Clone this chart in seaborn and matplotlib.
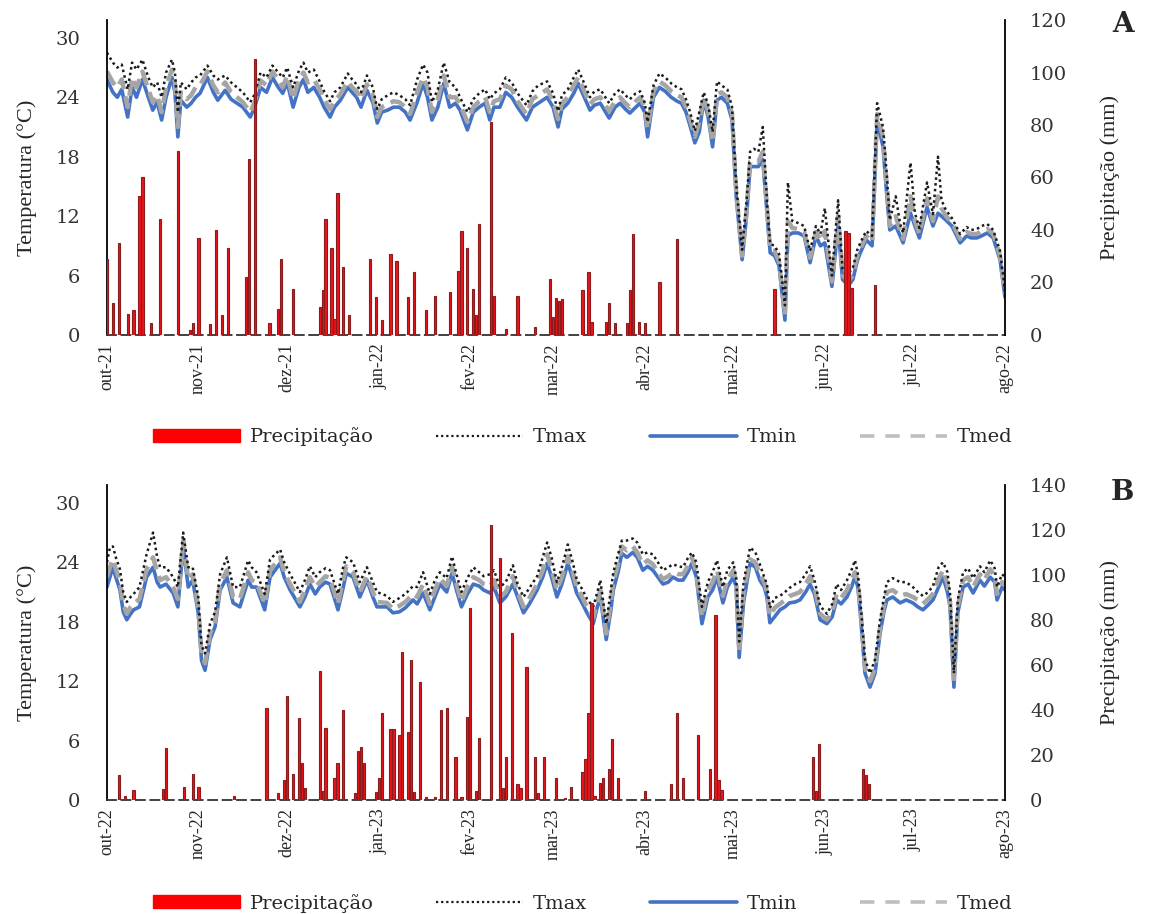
import matplotlib
matplotlib.use('Agg')
import matplotlib.pyplot as plt
from matplotlib.patches import Patch
from matplotlib.lines import Line2D
import seaborn as sns
import numpy as np
import pandas as pd

sns.set_theme(style='white')
plt.rcParams['font.family'] = ['Liberation Serif', 'DejaVu Serif']

# ---------------- panel A : out-21 .. ago-22 ----------------
a_start = '2021-10-01'
a_months = ['out-21', 'nov-21', 'dez-21', 'jan-22', 'fev-22', 'mar-22',
            'abr-22', 'mai-22', 'jun-22', 'jul-22', 'ago-22']
# days after the start date
a_day = [0, 2, 3.5, 5, 7, 8.5, 10, 12, 14, 15.5,
         17, 18.5, 20, 22, 23, 24, 25, 27, 28.5, 30,
         31.5, 34, 36, 37.5, 40, 42, 44, 46, 48.5, 50,
         52, 54, 56, 58, 59.5, 61, 63, 65, 66.5, 68,
         70, 72, 73.5, 75.5, 77, 79, 81.5, 83, 84.5, 86,
         88, 90, 91.5, 93, 95, 97, 99, 101, 102.6, 105,
         107, 108.5, 110, 112, 114, 116, 118, 119.5, 122, 124,
         126, 128, 129.6, 131, 133, 135, 137, 139, 142, 144,
         146, 149, 151, 152.7, 154, 156, 158, 159.5, 161, 163.5,
         165, 167, 170, 172, 173.7, 175.5, 177, 179, 180.5, 182,
         183, 185, 187, 189, 191, 193, 194.5, 196, 197.5, 199,
         200.5, 202, 203.5, 205, 206.5, 208, 210, 211.6, 213, 215,
         216.5, 217.7, 219, 220.5, 222, 223.5, 224.5, 226, 227.5, 229.5,
         230.5, 232, 234, 236, 238, 240, 241.5, 243, 245.4, 247.5,
         249, 251, 252.5, 254, 255, 257, 259, 260.7, 262.7, 264,
         265, 267, 268.5, 269.5, 272, 273.5, 275, 277.6, 279.6, 281.3,
         282.5, 284, 286, 288.8, 291, 292.5, 294.5, 296, 298, 300,
         302.3, 304]
a_tmin = [25.8, 24.5, 24.0, 24.8, 22.0, 25.0, 24.0, 25.8, 24.0, 22.7,
          23.5, 21.7, 24.0, 26.0, 24.5, 20.0, 23.7, 23.0, 23.4, 24.0,
          24.4, 26.0, 24.5, 23.7, 24.7, 23.8, 23.4, 23.0, 22.0, 23.0,
          25.0, 24.5, 26.0, 25.0, 24.4, 25.5, 23.0, 25.0, 25.8, 24.5,
          25.0, 24.0, 23.0, 22.0, 23.0, 23.7, 25.0, 24.5, 24.0, 23.0,
          24.7, 23.5, 21.4, 22.5, 22.7, 23.0, 23.0, 22.5, 21.7, 23.5,
          25.4, 24.0, 21.7, 23.0, 25.4, 23.0, 23.4, 22.7, 20.7, 22.5,
          23.0, 23.4, 21.7, 23.0, 23.0, 24.5, 24.0, 23.0, 21.7, 23.0,
          23.4, 24.0, 23.0, 21.0, 22.8, 23.4, 24.4, 25.4, 24.4, 22.7,
          23.2, 23.4, 21.9, 23.0, 23.4, 22.8, 22.4, 23.0, 23.4, 22.5,
          20.0, 24.0, 25.0, 24.6, 24.0, 23.6, 23.4, 22.5, 21.0, 19.4,
          20.5, 23.7, 22.0, 19.0, 23.7, 24.0, 23.4, 21.7, 14.0, 7.6,
          12.0, 17.0, 17.0, 17.0, 17.7, 12.0, 8.3, 8.0, 7.0, 1.5,
          10.0, 10.3, 10.3, 10.0, 7.3, 10.0, 9.0, 9.3, 4.9, 11.0,
          5.6, 5.0, 5.6, 7.5, 8.3, 9.6, 9.0, 21.7, 19.0, 14.0,
          10.6, 11.0, 10.0, 9.3, 12.3, 11.0, 9.8, 12.9, 11.0, 12.3,
          12.0, 11.6, 11.0, 9.3, 10.0, 9.8, 9.8, 10.0, 10.3, 9.8,
          7.6, 3.8]
a_tmed = [26.6, 25.5, 25.0, 25.8, 23.0, 26.0, 25.0, 26.6, 24.8, 23.5,
          24.2, 22.5, 25.0, 26.8, 25.5, 21.0, 24.5, 23.8, 24.2, 25.0,
          25.2, 26.6, 25.2, 24.5, 25.5, 24.5, 24.0, 23.5, 22.5, 23.5,
          25.7, 25.2, 26.6, 25.8, 25.0, 26.2, 23.8, 25.8, 26.5, 25.5,
          25.8, 24.8, 23.8, 22.8, 23.6, 24.3, 25.6, 25.0, 24.6, 23.8,
          25.3, 24.2, 22.0, 23.0, 23.3, 23.6, 23.5, 23.0, 22.3, 24.5,
          26.0, 25.0, 22.5, 23.8, 26.2, 24.0, 24.0, 23.3, 21.5, 23.0,
          23.6, 24.0, 22.5, 23.6, 23.8, 25.2, 24.8, 23.6, 22.3, 23.8,
          24.2, 24.8, 23.6, 21.8, 23.4, 24.0, 25.2, 26.0, 25.0, 23.3,
          23.8, 24.0, 22.6, 23.6, 24.0, 23.4, 23.0, 23.6, 24.0, 23.0,
          20.8, 24.6, 25.6, 25.2, 24.6, 24.2, 24.0, 23.0, 21.6, 20.0,
          21.5, 24.0, 22.6, 19.5, 24.3, 24.5, 24.0, 22.3, 14.5, 8.0,
          12.6, 17.5, 17.6, 17.5, 18.5, 12.6, 8.6, 8.5, 7.4, 2.0,
          11.5, 10.8, 10.7, 10.4, 7.8, 10.4, 9.5, 10.5, 5.4, 12.0,
          6.0, 5.5, 6.0, 8.0, 8.7, 10.0, 9.4, 22.3, 20.0, 15.0,
          11.0, 12.0, 10.5, 9.7, 14.0, 11.5, 10.2, 13.8, 11.5, 14.0,
          12.8, 12.0, 11.4, 9.7, 10.4, 10.2, 10.2, 10.5, 10.7, 10.2,
          8.0, 4.2]
a_tmax = [28.5, 27.5, 27.0, 27.3, 24.8, 27.5, 26.8, 27.8, 26.0, 25.0,
          25.5, 24.0, 26.5, 27.8, 26.5, 22.5, 25.5, 24.8, 25.5, 26.0,
          26.2, 27.2, 26.2, 25.8, 26.2, 25.5, 25.0, 24.5, 23.5, 24.3,
          26.5, 26.0, 27.2, 26.5, 26.0, 27.0, 25.0, 26.7, 27.5, 26.5,
          26.8, 25.6, 24.6, 23.6, 24.5, 25.0, 26.4, 25.8, 25.3, 24.5,
          26.2, 25.0, 22.8, 23.8, 24.2, 24.5, 24.2, 23.8, 23.2, 25.8,
          27.3, 26.5, 23.5, 24.8, 27.5, 25.5, 25.0, 24.0, 22.5, 23.8,
          24.4, 24.8, 23.8, 24.4, 24.8, 26.0, 25.5, 24.4, 23.2, 24.6,
          25.2, 25.6, 24.4, 22.6, 24.2, 24.8, 26.0, 26.8, 25.8, 24.0,
          24.6, 24.8, 23.4, 24.4, 24.8, 24.2, 23.8, 24.4, 24.6, 23.5,
          21.5, 25.2, 26.4, 26.0, 25.4, 25.0, 24.8, 23.8, 22.4, 20.6,
          22.5, 24.5, 23.3, 20.5, 25.6, 25.2, 24.8, 23.0, 15.3, 8.6,
          13.5, 18.5, 18.8, 18.5, 21.0, 13.2, 9.2, 9.0, 8.2, 3.0,
          15.4, 11.5, 11.3, 11.0, 8.5, 11.0, 10.2, 12.8, 6.0, 13.6,
          6.6, 6.2, 6.8, 8.6, 9.3, 10.5, 10.0, 23.4, 21.0, 16.0,
          11.6, 14.0, 11.2, 10.3, 17.4, 12.3, 10.8, 15.4, 12.2, 18.0,
          13.6, 12.6, 11.8, 10.2, 10.9, 10.6, 10.7, 11.0, 11.2, 10.6,
          8.5, 4.5]
a_rain_day = [0, 2, 4, 7, 9, 11, 12, 15, 18, 24,
              28, 29, 31, 35, 37, 39, 41, 47, 48, 50,
              55, 58, 59, 63, 72, 73, 74, 76, 77, 78,
              80, 82, 89, 91, 93, 96, 98, 102, 104, 108,
              111, 116, 119, 120, 122, 124, 125, 126, 130, 131,
              135, 139, 145, 150, 151, 152, 153, 154, 161, 163,
              164, 169, 170, 172, 176, 177, 178, 180, 182, 187,
              193, 226, 250, 251, 252, 260]
a_rain_mm = [29, 12, 35, 8, 9.5, 53, 60, 4.6, 44, 70,
             2, 4.6, 37, 4, 40, 7.6, 33, 22, 67, 105,
             4.6, 10, 29, 17.5, 10.7, 17, 44, 33, 6, 54,
             26, 7.6, 29, 14.5, 5.7, 31, 28, 14.5, 24, 9.5,
             15, 16.4, 24.4, 39.6, 33, 17.5, 7.6, 42.3, 81, 15,
             2.4, 15, 3, 21.3, 7, 14, 13, 13.7, 17, 24,
             5, 5, 12.2, 4.6, 4.6, 17, 38.5, 5, 4.6, 20.3,
             36.5, 17.5, 39.6, 39, 18, 19]

# ---------------- panel B : out-22 .. ago-23 ----------------
b_start = '2022-10-01'
b_months = ['out-22', 'nov-22', 'dez-22', 'jan-23', 'fev-23', 'mar-23',
            'abr-23', 'mai-23', 'jun-23', 'jul-23', 'ago-23']
b_day = [0, 1, 2, 3, 4.4, 5.5, 6.7, 8, 9, 11,
         13.4, 15.6, 17, 18, 20, 22.4, 24, 25.8, 27.5, 29,
         30.9, 32, 33.2, 34.9, 36.6, 38.3, 40.6, 42.7, 45, 47.8,
         49, 50.6, 53.4, 55.2, 58.6, 60, 62, 65.3, 67, 68.7,
         70.5, 72, 74, 75.5, 78.2, 80, 81, 83.3, 85.6, 88,
         90, 91.4, 94.8, 96.8, 99, 101, 103.6, 105, 107, 109.3,
         111, 112.7, 115, 116.8, 118.5, 120, 122, 124, 126, 127.5,
         129.7, 131, 133, 135, 137.4, 139, 141, 143, 145.6, 147.5,
         149, 150.5, 152.3, 154, 156, 157.5, 159, 161, 162.5, 164.6,
         166, 167, 169, 170.5, 171.4, 173, 174.3, 176, 178, 179.5,
         181.4, 183, 184.8, 186.5, 188.2, 190, 191.6, 193.4, 195, 196.6,
         198, 199.5, 201.4, 203.4, 205, 206.5, 208.5, 210, 212, 213,
         214, 215.5, 217.7, 219.5, 221, 222.5, 223.4, 224.4, 226, 227.8,
         229.5, 231, 233, 234.6, 236.5, 238, 239.5, 241.4, 243.7, 245.5,
         247, 248.5, 250.5, 252, 253.2, 254.2, 255, 256.6, 258.3, 260,
         261.7, 263, 264, 266, 268.5, 270.5, 272.8, 274.5, 276.2, 278,
         279.6, 281.5, 283, 284.5, 285.4, 286.7, 288, 289.8, 291.5, 293.2,
         295.5, 297, 299, 300.5, 301.3, 303, 304]
b_tmin = [21.5, 22.5, 23.5, 22.5, 21.2, 19.0, 18.2, 18.8, 19.2, 19.5,
          22.5, 23.5, 22.0, 21.5, 21.8, 20.9, 19.5, 25.6, 21.5, 22.2,
          18.9, 14.1, 13.1, 16.2, 17.5, 21.2, 22.5, 19.9, 19.5, 22.2,
          21.5, 21.5, 19.2, 22.5, 23.9, 22.5, 21.2, 19.5, 20.5, 21.8,
          20.8, 21.5, 22.0, 21.8, 19.2, 21.5, 22.9, 22.5, 20.5, 22.2,
          20.5, 19.5, 19.5, 18.9, 19.0, 19.4, 20.2, 19.8, 20.9, 19.2,
          20.5, 21.8, 21.0, 22.9, 21.0, 19.5, 20.8, 21.8, 21.6, 21.2,
          20.9, 21.5, 19.9, 20.5, 21.8, 20.5, 18.9, 19.8, 21.2, 22.5,
          23.9, 22.5, 20.5, 21.8, 23.9, 22.5, 20.9, 19.8, 18.9, 17.8,
          19.5, 20.5, 16.2, 19.0, 21.2, 23.0, 24.9, 24.5, 25.0, 24.5,
          23.2, 23.6, 23.2, 22.5, 21.8, 22.0, 22.5, 22.2, 22.2, 23.0,
          23.9, 22.5, 17.8, 20.5, 21.2, 22.5, 19.9, 21.5, 22.5, 21.5,
          14.4, 20.0, 23.9, 23.5, 22.2, 21.5, 20.5, 17.9, 18.5, 19.2,
          19.5, 19.9, 20.0, 20.2, 21.0, 21.8, 20.8, 18.2, 17.8, 18.5,
          20.2, 19.8, 20.5, 21.5, 22.5, 21.5, 18.9, 12.8, 11.4, 12.8,
          16.8, 19.0, 20.2, 20.5, 19.9, 20.2, 19.9, 19.5, 19.2, 19.7,
          20.2, 21.5, 22.5, 21.0, 19.5, 11.4, 18.9, 21.5, 21.8, 20.9,
          22.2, 21.6, 22.5, 22.0, 20.2, 21.5, 21.2]
b_tmed = [22.5, 23.5, 24.3, 23.3, 22.0, 19.8, 18.8, 19.5, 19.8, 20.3,
          23.3, 24.5, 23.0, 22.2, 22.5, 21.5, 20.3, 26.2, 22.3, 22.8,
          19.5, 14.8, 13.8, 16.8, 18.0, 21.8, 23.2, 20.5, 20.3, 23.0,
          22.2, 22.0, 19.8, 23.2, 24.5, 23.0, 21.8, 20.0, 21.2, 22.5,
          21.5, 22.0, 22.6, 22.4, 19.8, 22.3, 23.6, 23.0, 21.0, 22.6,
          21.0, 20.0, 19.9, 19.3, 19.6, 20.0, 20.8, 20.5, 21.8, 19.8,
          21.2, 22.4, 21.6, 23.6, 21.6, 20.0, 21.5, 22.5, 22.2, 21.8,
          21.6, 22.2, 20.5, 21.0, 22.6, 21.0, 19.5, 20.4, 21.8, 23.2,
          24.8, 23.3, 21.2, 22.5, 24.6, 23.2, 21.5, 20.4, 19.5, 18.4,
          20.0, 21.2, 16.8, 19.8, 22.0, 23.8, 25.6, 25.2, 25.6, 25.0,
          23.8, 24.2, 23.8, 23.0, 22.3, 22.6, 23.0, 22.8, 22.8, 23.6,
          24.5, 23.0, 18.5, 21.2, 22.0, 23.2, 20.6, 22.2, 23.2, 22.0,
          15.0, 21.0, 24.3, 24.0, 22.8, 22.0, 21.0, 18.6, 19.4, 19.8,
          20.2, 20.6, 20.8, 21.0, 21.8, 22.6, 21.5, 18.8, 18.2, 19.0,
          20.8, 20.4, 21.2, 22.2, 23.0, 22.0, 19.5, 13.4, 12.0, 13.3,
          17.4, 19.6, 21.0, 21.2, 20.6, 20.8, 20.5, 20.2, 19.8, 20.3,
          20.8, 22.3, 23.2, 21.8, 20.0, 12.0, 19.5, 22.2, 22.5, 21.5,
          22.8, 22.2, 23.3, 22.6, 20.8, 22.0, 21.8]
b_tmax = [24.0, 25.5, 25.6, 24.5, 23.3, 21.0, 20.0, 20.5, 20.8, 21.5,
          24.8, 27.0, 24.5, 23.5, 23.5, 22.5, 21.5, 27.0, 23.5, 23.5,
          20.5, 15.6, 14.8, 17.8, 19.0, 22.8, 24.5, 21.5, 21.5, 24.2,
          23.5, 23.0, 20.8, 24.3, 25.3, 24.0, 22.8, 21.0, 22.2, 23.6,
          22.5, 23.0, 23.4, 23.2, 20.8, 23.6, 24.5, 24.0, 22.0, 23.5,
          22.0, 21.0, 20.6, 20.0, 20.4, 20.8, 21.6, 21.5, 23.0, 20.8,
          22.2, 23.0, 22.4, 24.6, 22.6, 21.0, 22.4, 23.5, 23.0, 22.6,
          22.8, 23.2, 21.5, 22.0, 23.7, 21.8, 20.5, 21.4, 22.6, 24.5,
          26.0, 24.5, 22.0, 23.5, 25.8, 24.2, 22.3, 21.2, 20.3, 19.5,
          21.0, 22.2, 17.8, 21.0, 23.0, 24.8, 26.2, 26.2, 26.4, 26.0,
          24.8, 25.0, 24.8, 24.0, 23.2, 23.5, 23.8, 23.6, 23.5, 24.4,
          25.0, 24.0, 19.5, 22.0, 23.0, 24.2, 21.5, 23.2, 24.0, 22.5,
          16.0, 22.0, 25.5, 25.0, 23.8, 22.5, 21.8, 19.4, 20.4, 20.6,
          21.0, 21.4, 21.8, 22.0, 22.8, 23.6, 22.2, 19.6, 18.8, 19.8,
          21.8, 21.2, 22.2, 23.2, 24.2, 22.8, 20.2, 14.2, 12.8, 14.2,
          18.2, 20.4, 22.0, 22.4, 22.0, 22.0, 21.5, 21.0, 20.6, 21.0,
          21.6, 23.5, 24.0, 23.0, 20.8, 12.8, 20.2, 23.0, 23.4, 22.4,
          23.6, 23.0, 24.2, 23.4, 21.5, 22.8, 22.5]
b_rain_day = [4, 6, 9, 19, 20, 26, 29, 31, 43, 54,
              58, 60, 61, 63, 65, 66, 67, 72, 73, 74,
              77, 78, 80, 84, 85, 86, 87, 91, 92, 93,
              96, 97, 99, 100, 102, 103, 104, 106, 108, 111,
              113, 115, 118, 120, 122, 123, 125, 126, 130, 133,
              134, 135, 137, 139, 140, 142, 145, 146, 148, 152,
              155, 157, 161, 162, 163, 164, 165, 167, 168, 170,
              171, 173, 182, 191, 193, 195, 200, 204, 206, 207,
              208, 239, 240, 241, 256, 257, 258]
b_rain_mm = [11.1, 2, 4.6, 5, 23.1, 6, 11.6, 6, 2, 40.9,
             3, 9, 46.2, 11.6, 36.4, 16.3, 5.5, 57.4, 4, 32,
             10, 16.3, 40, 3, 21.8, 23.7, 16.3, 3.5, 10, 38.7,
             31.6, 31.6, 29, 65.8, 30.2, 62.2, 3.5, 52.4, 1.5, 1.5,
             40, 41, 19.1, 1.5, 36.9, 85.3, 4, 27.6, 122.2, 107.5,
             5.5, 19.1, 74.1, 7, 5.5, 59.3, 19.1, 3, 19.1, 10,
             1, 6, 12.6, 18.1, 38.7, 87.4, 2, 7.5, 10, 13.8,
             27.1, 9.6, 4, 7, 38.7, 10, 29, 13.8, 82.2, 9,
             4.6, 19.1, 4, 24.9, 13.8, 11.1, 7]

RED = '#E8141B'
RED_EDGE = '#8E1B1B'
BLUE = '#4472C4'
GREY = '#A5A5A5'
NUM_FONT = 'DejaVu Serif'


def draw_panel(ax, start, day, tmin, tmed, tmax, rain_day, rain_mm, months, rain_top, rain_step):
    t0 = pd.Timestamp(start)
    x = t0 + pd.to_timedelta(day, unit='D')

    # temperature lines (left axis)
    sns.lineplot(x=x, y=tmin, ax=ax, color=BLUE, linewidth=2.6, legend=False)
    sns.lineplot(x=x, y=tmed, ax=ax, color=GREY, linewidth=3.2,
                 linestyle=(0, (3.5, 1.6)), legend=False)
    sns.lineplot(x=x, y=tmax, ax=ax, color='#1a1a1a', linewidth=1.8,
                 linestyle=(0, (1.0, 1.3)), legend=False)
    ax.set_ylim(0, 31.8)
    ax.set_yticks(range(0, 31, 6))
    ax.set_xlim(t0, t0 + pd.Timedelta(days=304))
    ax.set_xticks(pd.date_range(t0, periods=len(months), freq='MS'))
    ax.set_xticklabels(months, rotation=90, fontsize=13)
    ax.set_xlabel('')
    ax.set_ylabel('Temperatura (\u00b0C)', fontsize=16)
    ax.yaxis.set_label_coords(-0.078, 0.5)
    ax.tick_params(axis='both', length=0)
    ax.tick_params(axis='x', pad=6)
    ax.tick_params(axis='y', pad=19)
    for lab in ax.get_yticklabels():
        lab.set_fontfamily(NUM_FONT)
        lab.set_fontsize(14)
        lab.set_color('#333333')
    for s in ['top', 'right']:
        ax.spines[s].set_visible(False)
    ax.spines['left'].set_color('black')
    ax.spines['left'].set_linewidth(1.3)
    ax.spines['bottom'].set_color('#333333')
    ax.spines['bottom'].set_linewidth(1.3)
    ax.spines['bottom'].set_linestyle((0, (5, 3)))

    # precipitation bars (right axis, drawn on top)
    ax2 = ax.twinx()
    xr = t0 + pd.to_timedelta(rain_day, unit='D')
    ax2.bar(xr, rain_mm, width=0.75, color=RED, edgecolor=RED_EDGE, linewidth=0.8)
    ax2.set_ylim(0, rain_top)
    ax2.set_yticks(range(0, rain_top + 1, rain_step))
    ax2.set_ylabel('Precipita\u00e7\u00e3o (mm)', fontsize=16)
    ax2.yaxis.set_label_coords(1.106, 0.5)
    ax2.tick_params(axis='y', length=0, pad=18)
    for lab in ax2.get_yticklabels():
        lab.set_fontfamily(NUM_FONT)
        lab.set_fontsize(14)
        lab.set_color('#333333')
    for s in ['top', 'left', 'bottom']:
        ax2.spines[s].set_visible(False)
    ax2.spines['right'].set_color('black')
    ax2.spines['right'].set_linewidth(1.3)
    ax2.grid(False)
    ax.grid(False)
    return ax2


fig = plt.figure(figsize=(11.49, 9.14), dpi=100)
axA = fig.add_axes([0.0931, 0.6335, 0.7816, 0.3446])
axB = fig.add_axes([0.0931, 0.1247, 0.7816, 0.3446])

draw_panel(axA, a_start, a_day, a_tmin, a_tmed, a_tmax, a_rain_day, a_rain_mm, a_months, 120, 20)
draw_panel(axB, b_start, b_day, b_tmin, b_tmed, b_tmax, b_rain_day, b_rain_mm, b_months, 140, 20)

fig.text(0.977, 0.973, 'A', fontsize=20, fontweight='bold', family=NUM_FONT, ha='center', va='center')
fig.text(0.977, 0.461, 'B', fontsize=20, fontweight='bold', family=NUM_FONT, ha='center', va='center')

handles = [Patch(facecolor='#FF0000', edgecolor='#FF0000', label='Precipita\u00e7\u00e3o'),
           Line2D([0], [0], color='#1a1a1a', linewidth=1.6, linestyle=(0, (1.0, 1.3)), label='Tmax'),
           Line2D([0], [0], color=BLUE, linewidth=2.6, label='Tmin'),
           Line2D([0], [0], color='#BFBFBF', linewidth=2.6, linestyle=(0, (4, 3)), label='Tmed')]

for ycen in [0.522, 0.012]:
    fig.legend(handles=handles, loc='center', bbox_to_anchor=(0.507, ycen), ncol=4,
               frameon=False, handlelength=4.5, handleheight=0.6, handletextpad=0.5,
               columnspacing=3.2, prop={'family': NUM_FONT, 'size': 14})

fig.savefig('out.png', dpi=100, facecolor='white')
